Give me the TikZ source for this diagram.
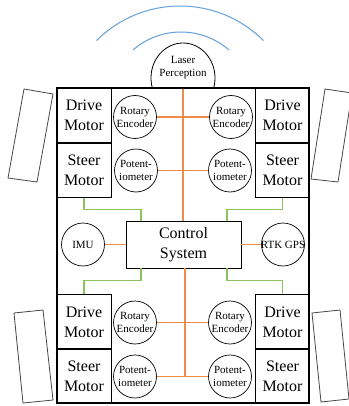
\documentclass[tikz,border=0pt]{standalone}
\usepackage{fontspec}
\setmainfont{Liberation Serif}
\definecolor{orl}{RGB}{240,140,75}
\definecolor{grl}{RGB}{140,195,95}
\definecolor{bll}{RGB}{100,160,220}
\definecolor{whl}{RGB}{70,70,70}
\begin{document}
\begin{tikzpicture}[x=1pt,y=-1pt,
  motorbox/.style={draw, line width=0.9pt, minimum width=54pt, minimum height=54.5pt, inner sep=0pt, align=center, font=\fontsize{16}{20}\selectfont},
  sensor/.style={draw, circle, line width=0.7pt, minimum size=43pt, inner sep=0pt, align=center, font=\fontsize{11}{13}\selectfont},
  stxt/.style={align=center, inner sep=0pt, font=\fontsize{11}{13}\selectfont},
  wheel/.style={draw=whl, line width=0.8pt},
  oline/.style={draw=orl, line width=1.4pt},
  gline/.style={draw=grl, line width=1.3pt},
  wave/.style={draw=bll, line width=1pt}
]
\useasboundingbox (0,0) rectangle (348,406);
% wheels
\draw[wheel] (24,89) -- (53,94) -- (37,182) -- (8,178) -- cycle;
\draw[wheel] (325,89) -- (352,93) -- (338,182) -- (311,179) -- cycle;
\draw[wheel] (14,313) -- (43,310) -- (53,400) -- (23,403) -- cycle;
\draw[wheel] (312,313) -- (340,310) -- (349,399) -- (321,402) -- cycle;
% waves
\draw[wave] (180,124) ++(225:118) arc[start angle=225, end angle=315, radius=118];
\draw[wave] (181,105) ++(229:73) arc[start angle=229, end angle=311, radius=73];
% laser
\draw[line width=0.8pt, fill=white] (183,78) ellipse[x radius=32, y radius=35];
\node[stxt] (laser) at (183,68) {Laser\\Perception};
% frame fill
\fill[white] (57,88) rectangle (309,403);
% motor boxes
\node[motorbox, minimum height=55pt] (ld1) at (84,115.5) {Drive\\Motor};
\node[motorbox] (ls1) at (84,170) {Steer\\Motor};
\node[motorbox, minimum height=55pt] (rd1) at (282.5,115.5) {Drive\\Motor};
\node[motorbox] (rs1) at (282.5,170) {Steer\\Motor};
\node[motorbox] (ld2) at (84,322) {Drive\\Motor};
\node[motorbox] (ls2) at (84,376) {Steer\\Motor};
\node[motorbox] (rd2) at (282.5,322) {Drive\\Motor};
\node[motorbox] (rs2) at (282.5,376) {Steer\\Motor};
% sensors
\node[sensor] (re1) at (135,117) {Rotary\\Encoder};
\node[sensor] (re2) at (231,117) {Rotary\\Encoder};
\node[sensor] (po1) at (136,170.5) {Potent-\\iometer};
\node[sensor] (po2) at (230,170.5) {Potent-\\iometer};
\node[sensor] (re3) at (135,322.5) {Rotary\\Encoder};
\node[sensor] (re4) at (230,322.5) {Rotary\\Encoder};
\node[sensor] (po3) at (135,376.5) {Potent-\\iometer};
\node[sensor] (po4) at (230,376.5) {Potent-\\iometer};
\node[sensor] (imu) at (83,244.5) {};
\node[stxt] at (imu) {IMU};
\node[sensor] (rtk) at (283,244.5) {};
\node[stxt] at (rtk) {RTK GPS};
% control system
\node[draw, line width=0.9pt, minimum width=115pt, minimum height=47pt, inner sep=0pt, align=center, font=\fontsize{16}{20}\selectfont] (cs) at (183.5,244.5) {Control\\System};
% orange lines
\coordinate (ft) at (183,88);
\draw[oline] (ft) -- (ft |- cs.north);
\draw[oline] ([xshift=1.5pt]cs.south) -- ([xshift=1.5pt]cs.south |- po3.east);
\draw[oline] (re1) -- (re2);
\draw[oline] (po1) -- (po2);
\draw[oline] (re3) -- (re4);
\draw[oline] (po3) -- (po4);
\draw[oline] (imu) -- (cs);
\draw[oline] (rtk) -- (cs);
% green lines
\draw[gline] (ls1.south) -- ++(0,12) -| ([xshift=-42.5pt]cs.north);
\draw[gline] (rs1.south) -- ++(0,12) -| ([xshift=43.5pt]cs.north);
\draw[gline] ([xshift=-42.5pt]cs.south) -- ++(0,12) -| (ld2.north);
\draw[gline] ([xshift=43.5pt]cs.south) -- ++(0,12) -| (rd2.north);
% frame
\draw[line width=1.6pt] (57,88) rectangle (309,403);
\end{tikzpicture}
\end{document}
